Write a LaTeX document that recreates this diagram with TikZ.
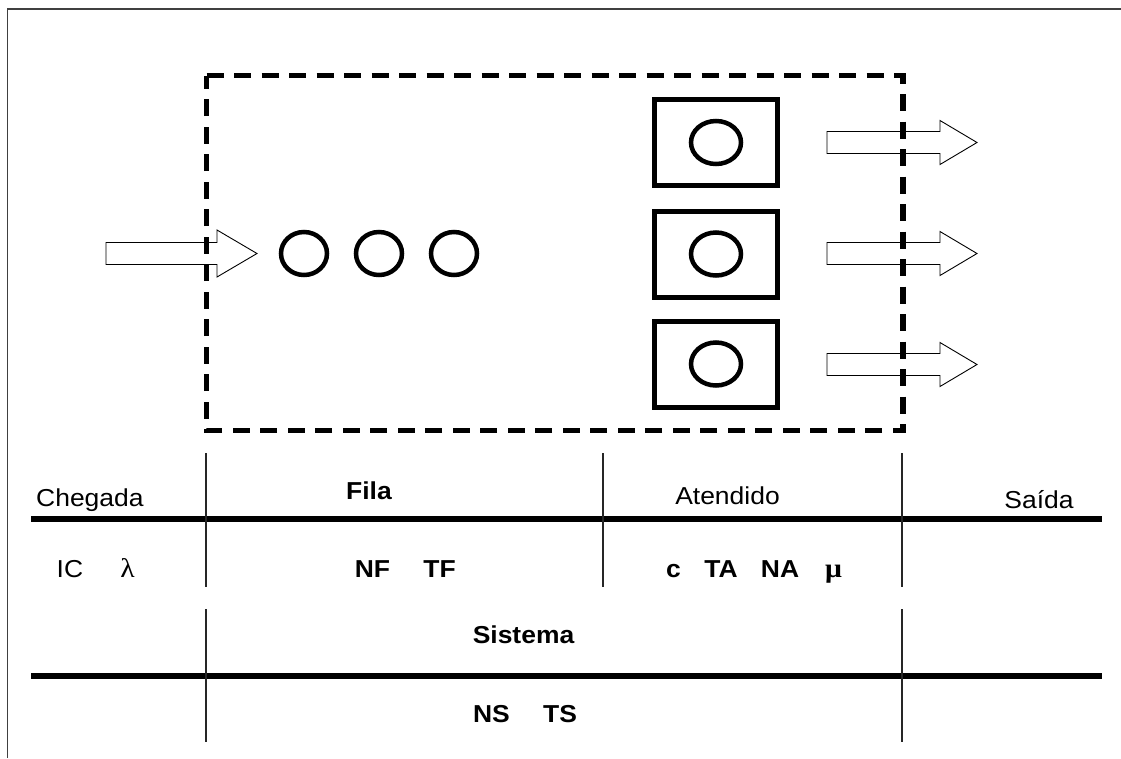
\documentclass[tikz,border=0pt]{standalone}
\usepackage{fontspec}
\setmainfont{Liberation Sans}[FakeStretch=1.08]
\newfontfamily\greekfont{Liberation Serif}[FakeStretch=1.1]
\begin{document}
\begin{tikzpicture}[x=1pt,y=-1pt,
  txt/.style={inner sep=0pt,anchor=base,font=\fontsize{24.5}{28}\selectfont},
  btxt/.style={txt,font=\fontsize{24.5}{28}\selectfont\bfseries},
  gtxt/.style={txt,font=\fontsize{27}{30}\selectfont\greekfont},
  bgtxt/.style={txt,font=\fontsize{27}{30}\selectfont\greekfont\bfseries},
  frameline/.style={line width=1.5pt,draw=black!75},
  thinline/.style={line width=1.5pt,draw=black!85},
  thickline/.style={line width=5.5pt,draw=black},
  client/.style={ellipse,draw=black,line width=4.5pt,inner sep=0pt,minimum width=46pt,minimum height=43pt},
  server/.style={ellipse,draw=black,line width=4.5pt,inner sep=0pt,minimum width=50pt,minimum height=43pt},
  serverbox/.style={rectangle,draw=black,line width=5pt,inner sep=0pt,minimum width=123pt,minimum height=86pt},
  blockarrow/.style={draw=black,line width=0.9pt,fill=white,line join=miter},
  boundary/.style={draw=black,line width=5.5pt,dash pattern=on 17pt off 10.5pt}
]
\usetikzlibrary{shapes.geometric}
\useasboundingbox (0,0) rectangle (1121,758);
\fill[white] (0,0) rectangle (1121,758);

% outer frame
\coordinate (fTL) at (7.5,9);
\coordinate (fTR) at (1121,9);
\coordinate (fBL) at (7.5,758);
\draw[frameline] (fBL) -- (fTL) -- (fTR);

% input block arrow
\coordinate (inA) at (106,253.5);
\draw[blockarrow] (inA) ++(0,-11) -- ++(111,0) -- ++(0,-12.5) -- ++(40,23.5) -- ++(-40,23.5) -- ++(0,-12.5) -- ++(-111,0) -- cycle;

% output block arrows
\coordinate (out1) at (827,142.5);
\coordinate (out2) at (827,253.5);
\coordinate (out3) at (827,364.5);
\foreach \o in {out1,out2,out3}{
  \draw[blockarrow] (\o) ++(0,-11) -- ++(113,0) -- ++(0,-11) -- ++(37,22) -- ++(-37,22) -- ++(0,-11) -- ++(-113,0) -- cycle;
}

% system boundary
\coordinate (bTL) at (206.5,75.5);
\coordinate (bTR) at (903,75.5);
\coordinate (bBR) at (903,430.5);
\coordinate (bBL) at (206.5,430.5);
\draw[boundary] (bTL) -- (bTR) -- (bBR) -- (bBL) -- cycle;

% queue
\node[client] (q1) at (304,253.5) {};
\node[client] (q2) at (379,253.5) {};
\node[client] (q3) at (454,253.5) {};

% servers
\node[serverbox] (s1) at (716,142.5) {};
\node[serverbox] (s2) at (716,254) {};
\node[serverbox] (s3) at (716,364) {};
\node[server] (c1) at (s1.center) {};
\node[server] (c2) at (s2.center) {};
\node[server] (c3) at (s3.center) {};

% table lines
\coordinate (h1a) at (31,519);   \coordinate (h1b) at (1102,519);
\coordinate (h2a) at (31,676);   \coordinate (h2b) at (1102,676);
\draw[thickline] (h1a) -- (h1b);
\draw[thickline] (h2a) -- (h2b);
\coordinate (v1a) at (206,453); \coordinate (v1b) at (206,587);
\coordinate (v2a) at (603,453); \coordinate (v2b) at (603,587);
\coordinate (v3a) at (902,453); \coordinate (v3b) at (902,587);
\coordinate (v4a) at (206,609); \coordinate (v4b) at (206,742);
\coordinate (v5a) at (902,609); \coordinate (v5b) at (902,742);
\draw[thinline] (v1a) -- (v1b);
\draw[thinline] (v2a) -- (v2b);
\draw[thinline] (v3a) -- (v3b);
\draw[thinline] (v4a) -- (v4b);
\draw[thinline] (v5a) -- (v5b);

% headers
\node[txt,anchor=base west] (chegada) at (36,506) {Chegada};
\node[btxt] (fila) at (369,499) {Fila};
\node[txt] (atendido) at (727.5,504) {Atendido};
\node[txt] (saida) at (1039,508) {Saída};

% row 2
\node[txt,anchor=base west] (ic) at (56.5,577) {IC};
\node[gtxt] (lambda) at (127.5,577) {λ};
\node[btxt] (nf) at (372.5,577) {NF};
\node[btxt] (tf) at (439.5,577) {TF};
\node[btxt] (c) at (673.5,577) {c};
\node[btxt] (ta) at (721,577) {TA};
\node[btxt] (na) at (780,577) {NA};
\node[bgtxt] (mu) at (833.5,577) {μ};

% system
\node[btxt] (sistema) at (523.5,643) {Sistema};
\node[btxt] (ns) at (491.5,722) {NS};
\node[btxt] (ts) at (560,722) {TS};
\end{tikzpicture}
\end{document}
